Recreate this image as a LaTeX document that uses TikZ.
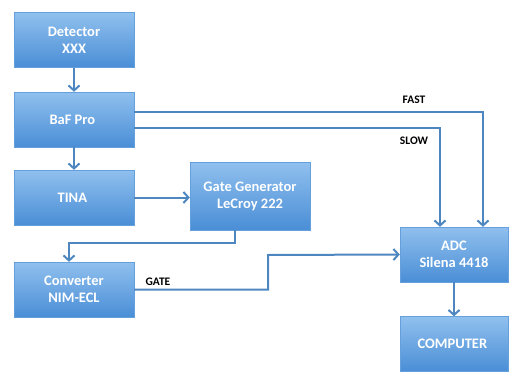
\documentclass[tikz,border=0pt]{standalone}
\usepackage{fontspec}
\setmainfont{Carlito}
\usepackage{tikz}
\usetikzlibrary{positioning}
\usetikzlibrary{arrows.meta}

\definecolor{boxtop}{HTML}{90C0EE}
\definecolor{boxbot}{HTML}{4A8ED6}
\definecolor{wire}{HTML}{4E86C0}

\tikzset{
  unit/.style={align=center,top color=boxtop,bottom color=boxbot,draw=boxbot!85!white,
    text=white,font=\bfseries\fontsize{14.5}{17}\selectfont,
    minimum width=120pt,minimum height=55pt,inner sep=2pt},
  sig/.style={-{Straight Barb[length=5pt,width=11pt,line width=2pt]},line width=2pt,draw=wire},
  tag/.style={font=\bfseries\fontsize{11.5}{13}\selectfont}
}

\begin{document}
\begin{tikzpicture}[x=1pt,y=-1pt]
  \useasboundingbox (0,0) rectangle (512,372);

  \node at (74,40) [unit] (detector) {
    Detector\\XXX
  };

  \node at (74,119.5) [unit] (baf) {
    BaF Pro
  };

  \node at (74,197.5) [unit] (tina) {
    TINA
  };

  \node at (250,196) [unit,minimum height=68pt] (gate) {
    Gate Generator\\LeCroy 222
  };

  \node at (74,289.5) [unit] (converter) {
    Converter\\NIM-ECL
  };

  \node at (454,254.5) [unit,minimum width=108pt] (adc) {
    ADC\\Silena 4418
  };

  \node at (454,344) [unit,minimum width=108pt] (computer) {
    COMPUTER
  };

  \node at (414,100) [tag] (fastlabel) {FAST};
  \node at (414,141) [tag] (slowlabel) {SLOW};
  \node at (158,282) [tag] (gatelabel) {GATE};

  % bends of the wires
  \coordinate (fast) at (483,112);
  \coordinate (slow) at (440,128);
  \coordinate (gatebend) at (235,243);
  \coordinate (gateup) at (268,255);

  \draw[sig] (detector) -- (baf);
  \draw[sig] (baf) -- (tina);
  \draw[sig] (tina.east) -- (tina.east -| gate.west);
  \draw[sig] (gate.south -| gatebend) -- (gatebend) -| ([xshift=-5pt]converter.north);
  \draw[sig] (converter.east) -| (gateup) -- (adc.west);
  \draw[sig] (baf.east |- fast) -| (adc.north -| fast);
  \draw[sig] (baf.east |- slow) -| (adc.north -| slow);
  \draw[sig] (adc) -- (computer);
\end{tikzpicture}
\end{document}
